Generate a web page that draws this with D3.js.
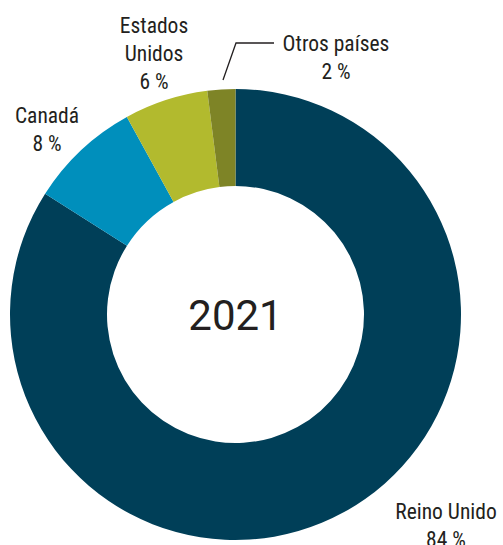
<!DOCTYPE html>
<html><head><meta charset="utf-8">
<script src="https://cdn.jsdelivr.net/npm/d3@7"></script>
<style>body{margin:0;background:#fff}</style>
</head><body>
<svg id="c" width="503" height="545"></svg>
<script>
const categories = ["Reino Unido", "Canadá", "Estados Unidos", "Otros países"];
const values = [84, 8, 6, 2];
const colors = ["#003f58", "#008fbc", "#b2ba2e", "#7e8426"];
const year = "2021";

const svg = d3.select("#c");
const cx = 235.5, cy = 314.5, rOut = 225.5, rIn = 128.5;
const g = svg.append("g").attr("transform", `translate(${cx},${cy})`);
const pie = d3.pie().sort(null).value(d => d.v);
const data = categories.map((c, i) => ({c, v: values[i], col: colors[i]}));
const arcs = pie(data);
const arc = d3.arc().innerRadius(rIn).outerRadius(rOut);
g.selectAll("path").data(arcs).join("path").attr("d", arc).attr("fill", d => d.data.col);

g.append("text").attr("text-anchor", "middle").attr("y", 15)
  .attr("font-family", "Roboto, sans-serif").attr("font-size", 42).attr("fill", "#231f20").text(year);

const font = "'Roboto Condensed','Liberation Sans Narrow','Arial Narrow',sans-serif";
const labels = [
  {lines: ["Reino Unido", values[0] + " %"], x: 446, y: 519},
  {lines: ["Canadá", values[1] + " %"], x: 47, y: 123},
  {lines: ["Estados", "Unidos", values[2] + " %"], x: 154, y: 33},
  {lines: ["Otros países", values[3] + " %"], x: 336, y: 51}
];
labels.forEach(l => {
  const t = svg.append("text").attr("text-anchor", "middle").attr("font-family", font)
    .attr("font-size", 21.5).attr("fill", "#231f20");
  l.lines.forEach((s, i) => t.append("tspan").attr("x", l.x).attr("y", l.y + i * 28).text(s));
});
svg.append("polyline").attr("points", "223,80 236,43 274,43")
  .attr("fill", "none").attr("stroke", "#231f20").attr("stroke-width", 1.3);
</script>
</body></html>
